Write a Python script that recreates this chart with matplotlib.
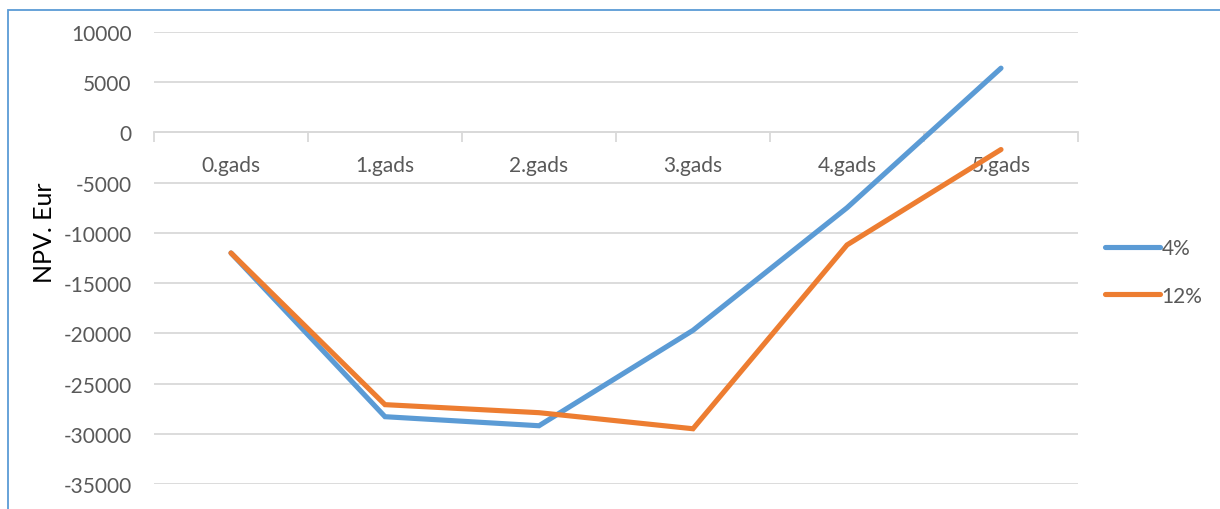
import matplotlib
matplotlib.use("Agg")
import matplotlib.pyplot as plt
from matplotlib.patches import Rectangle
from matplotlib.ticker import FixedLocator

plt.rcParams['font.family'] = ['Lato', 'DejaVu Sans']
plt.rcParams['axes.unicode_minus'] = False

categories = ["0.gads", "1.gads", "2.gads", "3.gads", "4.gads", "5.gads"]
npv_4 = [-12000, -28300, -29200, -19700, -7500, 6400]
npv_12 = [-12000, -27100, -27900, -29500, -11200, -1700]
series_labels = ["4%", "12%"]
y_ticks = list(range(-35000, 10001, 5000))

W, H = 1220, 510
fig = plt.figure(figsize=(W / 100, H / 100), dpi=100)

# outer chart frame
fig.patches.append(Rectangle((8 / W, -0.1), 1.2, 1 - 11 / H + 0.1,
                             transform=fig.transFigure, fill=False,
                             edgecolor="#5B9BD5", linewidth=1.3))

ax = fig.add_axes([154 / W, 1 - 485 / H, (1078 - 154) / W, (485 - 33) / H])
x = range(len(categories))

grid_c = "#D9D9D9"
text_c = "#595959"
for v in y_ticks:
    ax.axhline(v, color=grid_c, linewidth=1.3, zorder=1)

ax.plot(x, npv_4, color="#5B9BD5", linewidth=3.7, solid_capstyle="round",
        solid_joinstyle="miter", label=series_labels[0], zorder=3)
ax.plot(x, npv_12, color="#ED7D31", linewidth=3.7, solid_capstyle="round",
        solid_joinstyle="miter", label=series_labels[1], zorder=3)

ax.set_xlim(-0.5, len(categories) - 0.5)
ax.set_ylim(min(y_ticks), max(y_ticks))

for s in ["top", "right", "left"]:
    ax.spines[s].set_visible(False)
ax.spines["bottom"].set_position(("data", 0))
ax.spines["bottom"].set_color(grid_c)
ax.spines["bottom"].set_linewidth(1.3)

ax.set_xticks(list(x))
ax.set_xticklabels(categories)
ax.xaxis.set_minor_locator(FixedLocator([i - 0.5 for i in range(len(categories) + 1)]))
ax.tick_params(axis="x", which="major", length=0, pad=16, labelsize=15, labelcolor=text_c)
ax.tick_params(axis="x", which="minor", length=7, width=1.3, color=grid_c, direction="out")

ax.set_yticks(y_ticks)
ax.tick_params(axis="y", length=0, pad=16, labelsize=15, labelcolor=text_c)

fig.text(45 / W, 1 - 233 / H, "NPV. Eur", rotation=90, ha="center", va="center",
         fontsize=18, color="black")

leg = fig.legend(loc="center left", bbox_to_anchor=(1097 / W, 1 - 273 / H),
                 frameon=False, fontsize=15, handlelength=2.6, handletextpad=0.1,
                 labelspacing=1.3, borderaxespad=0)
for t in leg.get_texts():
    t.set_color(text_c)

fig.savefig("out.png", dpi=100)
